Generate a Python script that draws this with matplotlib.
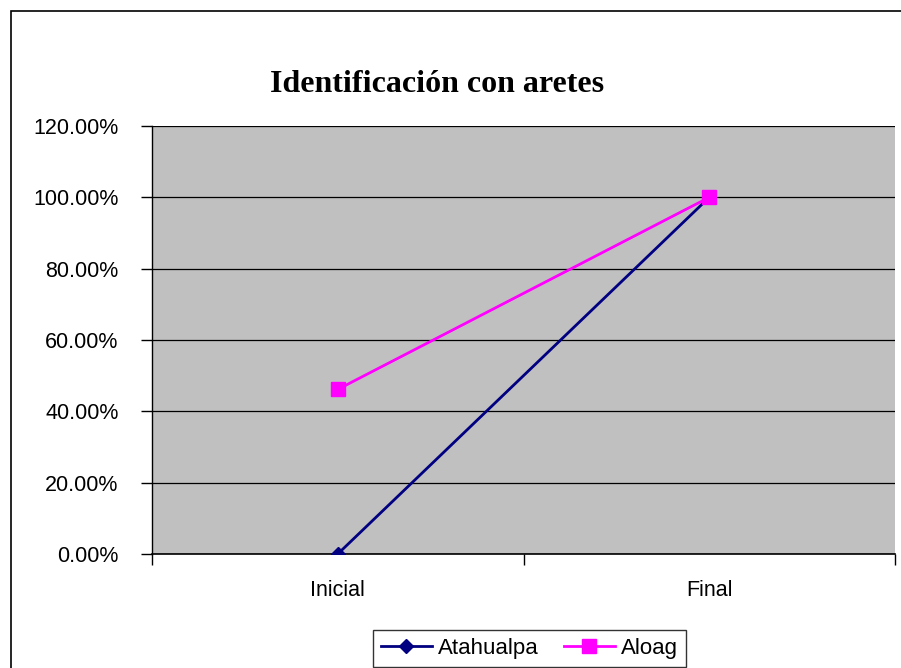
import matplotlib.pyplot as plt
from matplotlib.patches import Rectangle
from matplotlib.ticker import FuncFormatter

plt.rcParams['font.family'] = 'sans-serif'
plt.rcParams['font.sans-serif'] = ['Liberation Sans', 'DejaVu Sans']

# data
categories = ["Inicial", "Final"]
atahualpa = [0.0, 100.0]
aloag = [46.15, 100.0]
y_ticks = [0, 20, 40, 60, 80, 100, 120]

fig = plt.figure(figsize=(9.01, 6.68), dpi=100)
ax = fig.add_axes([152 / 901, 1 - 554 / 668, (895 - 152) / 901, (554 - 126) / 668])
ax.set_facecolor("#C0C0C0")

x = list(range(len(categories)))
ax.plot(x, atahualpa, color="#000080", lw=2, marker="D", markersize=7.5,
        label="Atahualpa", zorder=3)
ax.plot(x, aloag, color="#FF00FF", lw=2, marker="s", markersize=9.5,
        label="Aloag", zorder=3)

ax.set_xlim(-0.5, len(categories) - 0.5)
ax.set_ylim(0, 120)
ax.set_yticks(y_ticks)
ax.yaxis.set_major_formatter(FuncFormatter(lambda v, p: "{:.2f}%".format(v)))
ax.yaxis.grid(True, color="black", lw=0.9)
ax.set_axisbelow(True)

# category ticks sit between the categories, labels at the centres
ax.set_xticks([i - 0.5 for i in range(len(categories) + 1)])
ax.set_xticklabels([])
ax.set_xticks(x, minor=True)
ax.set_xticklabels(categories, minor=True)
ax.tick_params(axis="x", which="minor", length=0, pad=19, labelsize=15.5)
ax.tick_params(axis="x", which="major", length=8, width=1, direction="out")
ax.tick_params(axis="y", length=8, width=1, direction="out", labelsize=15.5, pad=16)

for s in ["top", "right"]:
    ax.spines[s].set_visible(False)
ax.spines["left"].set_linewidth(1)
ax.spines["bottom"].set_linewidth(1.2)

fig.text(437 / 901, 1 - 85 / 668, "Identificación con aretes", ha="center", va="center",
         fontsize=23, fontweight="bold", family="Liberation Serif")

leg = fig.legend(loc="upper center", bbox_to_anchor=(529.5 / 901, 1 - 630 / 668),
                 ncol=2, fontsize=16, frameon=True, fancybox=False,
                 handlelength=2.3, columnspacing=1.1, handletextpad=0.3,
                 borderpad=0.35, borderaxespad=0)
leg.get_frame().set_edgecolor("black")
leg.get_frame().set_linewidth(1)

# chart area border
fig.patches.append(Rectangle((11 / 901, -0.1), 1.2, 1 - 11 / 668 + 0.1,
                             transform=fig.transFigure, fill=False,
                             edgecolor="black", lw=1.2))

fig.savefig("out.png", dpi=100)
